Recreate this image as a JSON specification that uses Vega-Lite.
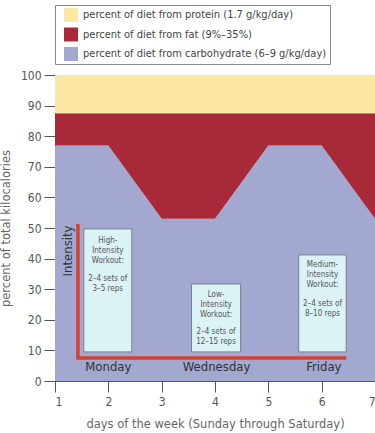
{
  "$schema": "https://vega.github.io/schema/vega-lite/v6.json",
  "width": 320,
  "height": 306,
  "autosize": {"type": "none"},
  "padding": {"left": 55, "top": 75, "right": 0, "bottom": 52},
  "background": "white",
  "config": {
    "view": {"stroke": "#777", "strokeWidth": 1},
    "font": "DejaVu Sans Condensed, Liberation Sans, sans-serif",
    "axis": {
      "labelColor": "#555",
      "titleColor": "#666",
      "domainColor": "#555",
      "tickColor": "#555",
      "grid": false,
      "labelFont": "DejaVu Sans Condensed, Liberation Sans, sans-serif",
      "titleFont": "DejaVu Sans, sans-serif",
      "titleFontWeight": "normal",
      "labelFontSize": 12,
      "tickSize": 11,
      "titleFontSize": 11.5
    },
    "axisX": {"tickCount": 6, "labelPadding": 4, "titlePadding": 11},
    "axisY": {"tickCount": 10, "labelPadding": 3, "titlePadding": 9}
  },
  "layer": [
    {
      "data": {
        "values": [
          {"day": 1, "nutrient": "carb", "lo": 0, "hi": 77},
          {"day": 2, "nutrient": "carb", "lo": 0, "hi": 77},
          {"day": 3, "nutrient": "carb", "lo": 0, "hi": 53},
          {"day": 4, "nutrient": "carb", "lo": 0, "hi": 53},
          {"day": 5, "nutrient": "carb", "lo": 0, "hi": 77},
          {"day": 6, "nutrient": "carb", "lo": 0, "hi": 77},
          {"day": 7, "nutrient": "carb", "lo": 0, "hi": 53},
          {"day": 1, "nutrient": "fat", "lo": 77, "hi": 87.5},
          {"day": 2, "nutrient": "fat", "lo": 77, "hi": 87.5},
          {"day": 3, "nutrient": "fat", "lo": 53, "hi": 87.5},
          {"day": 4, "nutrient": "fat", "lo": 53, "hi": 87.5},
          {"day": 5, "nutrient": "fat", "lo": 77, "hi": 87.5},
          {"day": 6, "nutrient": "fat", "lo": 77, "hi": 87.5},
          {"day": 7, "nutrient": "fat", "lo": 53, "hi": 87.5},
          {"day": 1, "nutrient": "protein", "lo": 87.5, "hi": 100},
          {"day": 2, "nutrient": "protein", "lo": 87.5, "hi": 100},
          {"day": 3, "nutrient": "protein", "lo": 87.5, "hi": 100},
          {"day": 4, "nutrient": "protein", "lo": 87.5, "hi": 100},
          {"day": 5, "nutrient": "protein", "lo": 87.5, "hi": 100},
          {"day": 6, "nutrient": "protein", "lo": 87.5, "hi": 100},
          {"day": 7, "nutrient": "protein", "lo": 87.5, "hi": 100}
        ]
      },
      "mark": {"type": "area"},
      "encoding": {
        "x": {
          "field": "day", "type": "quantitative",
          "scale": {"domain": [1, 7], "nice": false, "zero": false},
          "axis": {"title": "days of the week (Sunday through Saturday)"}
        },
        "y": {
          "field": "hi", "type": "quantitative",
          "scale": {"domain": [0, 100], "nice": false},
          "axis": {"title": "percent of total kilocalories"}
        },
        "y2": {"field": "lo"},
        "color": {
          "field": "nutrient", "type": "nominal",
          "scale": {
            "domain": ["protein", "fat", "carb"],
            "range": ["#fce8a4", "#a82a39", "#a2a8d0"]
          },
          "legend": {
            "title": null,
            "orient": "none",
            "legendX": 0,
            "legendY": -70,
            "direction": "vertical",
            "symbolType": "square",
            "symbolSize": 196,
            "symbolStrokeWidth": 0,
            "symbolOpacity": 1,
            "symbolOffset": 6,
            "rowPadding": 5.5,
            "padding": 3,
            "labelFontSize": 11,
            "labelColor": "#444",
            "labelOffset": 5,
            "labelLimit": 400,
            "strokeColor": "#888",
            "fillColor": "white",
            "labelExpr": "datum.value == 'protein' ? 'percent of diet from protein (1.7 g/kg/day)' : datum.value == 'fat' ? 'percent of diet from fat (9%–35%)' : 'percent of diet from carbohydrate (6–9 g/kg/day)'"
          }
        }
      }
    },
    {
      "data": {
        "values": [
          {"name": "high", "x1": 1.54, "x2": 2.44, "top": 49.7, "bottom": 9.5, "tx": 1.99, "hy": 46.9, "sy": 34.5, "head": "High-\nIntensity\nWorkout:", "sets": "2–4 sets of\n3–5 reps"},
          {"name": "low", "x1": 3.56, "x2": 4.48, "top": 31.7, "bottom": 9.5, "tx": 4.02, "hy": 29.4, "sy": 17.2, "head": "Low-\nIntensity\nWorkout:", "sets": "2–4 sets of\n12–15 reps"},
          {"name": "medium", "x1": 5.57, "x2": 6.46, "top": 41.2, "bottom": 9.5, "tx": 6.015, "hy": 39.2, "sy": 26.6, "head": "Medium-\nIntensity\nWorkout:", "sets": "2–4 sets of\n8–10 reps"}
        ]
      },
      "layer": [
        {
          "mark": {"type": "rect", "fill": "#dcf3f6", "stroke": "#7a7f8c", "strokeWidth": 1},
          "encoding": {
            "x": {"field": "x1", "type": "quantitative"},
            "x2": {"field": "x2"},
            "y": {"field": "top", "type": "quantitative"},
            "y2": {"field": "bottom"}
          }
        },
        {
          "mark": {"type": "text", "lineBreak": "\n", "baseline": "top", "align": "center", "fontSize": 8, "lineHeight": 10, "color": "#555"},
          "encoding": {
            "x": {"field": "tx", "type": "quantitative"},
            "y": {"field": "hy", "type": "quantitative"},
            "text": {"field": "head", "type": "nominal"}
          }
        },
        {
          "mark": {"type": "text", "lineBreak": "\n", "baseline": "top", "align": "center", "fontSize": 8, "lineHeight": 10, "color": "#555"},
          "encoding": {
            "x": {"field": "tx", "type": "quantitative"},
            "y": {"field": "sy", "type": "quantitative"},
            "text": {"field": "sets", "type": "nominal"}
          }
        }
      ]
    },
    {
      "data": {
        "values": [
          {"seq": 1, "lx": 1.43, "ly": 51.3},
          {"seq": 2, "lx": 1.43, "ly": 7.5},
          {"seq": 3, "lx": 6.46, "ly": 7.5}
        ]
      },
      "mark": {"type": "line", "color": "#d8402c", "strokeWidth": 3.5, "strokeCap": "butt", "strokeJoin": "miter"},
      "encoding": {
        "x": {"field": "lx", "type": "quantitative"},
        "y": {"field": "ly", "type": "quantitative"},
        "order": {"field": "seq"}
      }
    },
    {
      "data": {
        "values": [
          {"dx": 2.0, "dy": 4.6, "dlabel": "Monday"},
          {"dx": 4.03, "dy": 4.6, "dlabel": "Wednesday"},
          {"dx": 6.04, "dy": 4.6, "dlabel": "Friday"}
        ]
      },
      "mark": {"type": "text", "fontSize": 13, "color": "#333", "baseline": "middle", "align": "center"},
      "encoding": {
        "x": {"field": "dx", "type": "quantitative"},
        "y": {"field": "dy", "type": "quantitative"},
        "text": {"field": "dlabel", "type": "nominal"}
      }
    },
    {
      "data": {"values": [{"ix": 1.24, "iy": 42.5, "ilabel": "Intensity"}]},
      "mark": {"type": "text", "fontSize": 13, "color": "#333", "angle": 270, "baseline": "middle", "align": "center"},
      "encoding": {
        "x": {"field": "ix", "type": "quantitative"},
        "y": {"field": "iy", "type": "quantitative"},
        "text": {"field": "ilabel", "type": "nominal"}
      }
    }
  ]
}
